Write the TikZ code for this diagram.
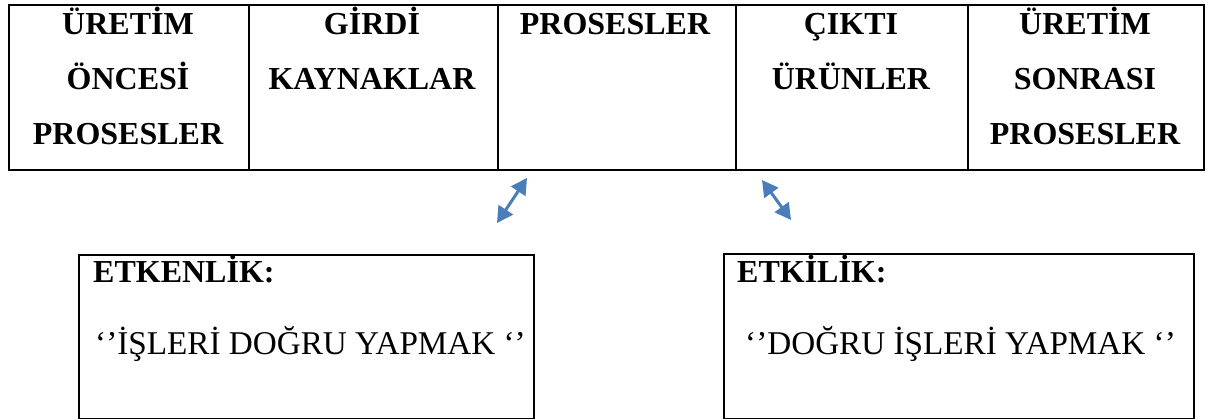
\documentclass[tikz,border=0pt]{standalone}
\usepackage{fontspec}
\setmainfont{Liberation Serif}
\usetikzlibrary{arrows.meta}
\definecolor{arrowblue}{HTML}{4A7EBB}
\tikzset{
  cell/.style={draw=black, line width=2pt, anchor=north west, inner sep=0pt},
  head/.style={anchor=base, align=center, inner sep=0pt, font=\fontsize{32}{55}\selectfont\bfseries},
  boxtitle/.style={anchor=base west, inner sep=0pt, font=\fontsize{32}{38}\selectfont\bfseries},
  boxtext/.style={anchor=base west, inner sep=0pt, font=\fontsize{33.2}{38}\selectfont},
  dblarrow/.style={draw=arrowblue, line width=3pt, {Triangle[length=16pt,width=17pt]}-{Triangle[length=16pt,width=17pt]}}
}
\begin{document}
\begin{tikzpicture}[x=1pt,y=-1pt]
\useasboundingbox (0,0) rectangle (1208,419);
% table cells
\node[cell, minimum width=240pt, minimum height=165pt] (c1) at (8,4) {};
\node[cell, minimum width=249pt, minimum height=165pt] (c2) at (248,4) {};
\node[cell, minimum width=238pt, minimum height=165pt] (c3) at (497,4) {};
\node[cell, minimum width=232pt, minimum height=165pt] (c4) at (735,4) {};
\node[cell, minimum width=236pt, minimum height=165pt] (c5) at (967,4) {};
% headings (anchor base = baseline of the last line)
\node[head] (t1) at (128,145) {ÜRETİM\\ÖNCESİ\\PROSESLER};
\node[head] (t2) at (372,90) {GİRDİ\\KAYNAKLAR};
\node[head] (t3) at (615,35) {PROSESLER};
\node[head] (t4) at (851,90) {ÇIKTI\\ÜRÜNLER};
\node[head] (t5) at (1085,145) {ÜRETİM\\SONRASI\\PROSESLER};
% bottom boxes
\node[cell, minimum width=455pt, minimum height=164pt] (b1) at (78,254) {};
\node[cell, minimum width=470pt, minimum height=165pt] (b2) at (723,253) {};
\node[boxtitle] (b1t) at (93,283) {ETKENLİK:};
\node[boxtext] (b1s) at (95,355) {‘’İŞLERİ DOĞRU YAPMAK ‘’};
\node[boxtitle] (b2t) at (737,283) {ETKİLİK:};
\node[boxtext] (b2s) at (745,355) {‘’DOĞRU İŞLERİ YAPMAK ‘’};
% arrows
\coordinate (a1s) at (497,223);
\coordinate (a1e) at (527,178);
\coordinate (a2s) at (762,180);
\coordinate (a2e) at (791,220);
\draw[dblarrow] (a1s) -- (a1e);
\draw[dblarrow] (a2s) -- (a2e);
\end{tikzpicture}
\end{document}
